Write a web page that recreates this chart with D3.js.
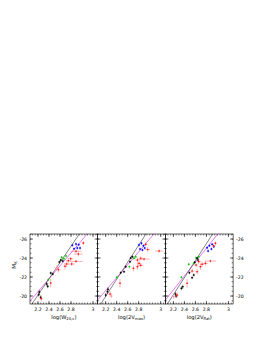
<!DOCTYPE html>
<html>
<head>
<meta charset="utf-8">
<script src="https://cdn.jsdelivr.net/npm/d3@7"></script>
<style>
  body { margin: 0; background: #fff; }
  svg { display: block; font-family: "DejaVu Sans", sans-serif; }
</style>
</head>
<body>
<div class="svg-container"></div>
<script>
// panel x-axis titles
var axisNames = ["W", "2V", "2V"];
var axisSubs = ["20,c", "max", "flat"];

var xTicks = [2.2, 2.4, 2.6, 2.8, 3.2];
var xTickLabels = ["2.2", "2.4", "2.6", "2.8", "3"];
var yTicks = [-26, -24, -22, -20];

// fit lines: M = a + b*(logW - 2.5)
var blackFit = [[-22.67, -8.57], [-22.66, -8.98], [-22.83, -8.95]];
var violetFit = [[-22.50, -6.8], [-22.61, -6.8], [-22.84, -7.32]];

// groups: k black, g green, b blue, r red, p pink
var p1Grp = ["b","b","b","b","b","b","r","r","r","g","g","g","k","k","k","r","r","r","r","r","r","p","r","k","k","g","k","k","r","k","k","k","r"];
var p1X = [2.824,2.891,2.940,2.855,2.915,2.964,3.024,2.891,2.933,2.631,2.673,2.709,2.613,2.588,2.650,2.751,2.795,2.891,2.722,2.691,2.813,2.540,2.570,2.431,2.468,2.388,2.359,2.377,2.431,2.224,2.213,2.250,2.260];
var p1M = [-25.34,-25.47,-25.40,-24.98,-25.05,-25.05,-25.58,-24.71,-24.42,-24.07,-23.93,-24.21,-23.79,-23.58,-23.68,-23.72,-23.93,-23.65,-23.37,-23.13,-23.37,-22.98,-22.77,-22.42,-22.32,-21.72,-21.26,-21.02,-21.37,-20.42,-20.14,-19.86,-19.72];
var p1Ex = [0.02,0.02,0.02,0.02,0.02,0.02,0.03,0.10,0.08,0.02,0.02,0.02,0.02,0.02,0.02,0.04,0.05,0.12,0.04,0.03,0.06,0.05,0.04,0.02,0.02,0.02,0.02,0.02,0.02,0.02,0.02,0.02,0.03];
var p1Em = [0.15,0.15,0.15,0.15,0.15,0.15,0.20,0.20,0.25,0.15,0.15,0.15,0.15,0.15,0.15,0.25,0.20,0.15,0.30,0.35,0.20,0.25,0.30,0.15,0.15,0.15,0.20,0.20,0.45,0.20,0.20,0.20,0.30];

var p2Grp = ["b","b","b","b","b","b","r","r","r","k","k","k","g","g","r","r","r","r","r","r","r","k","k","g","g","k","r","k","k","k","r","p"];
var p2X = [2.806,2.850,2.886,2.824,2.868,2.910,2.928,3.170,2.964,2.655,2.686,2.642,2.715,2.746,2.777,2.837,2.897,2.806,2.777,2.837,2.704,2.564,2.533,2.631,2.400,2.473,2.460,2.242,2.231,2.200,2.279,2.304];
var p2M = [-25.37,-25.55,-25.29,-24.95,-24.84,-25.05,-25.44,-24.74,-24.89,-24.00,-24.14,-23.61,-23.97,-24.14,-23.79,-23.97,-23.89,-23.44,-23.08,-23.23,-22.92,-23.08,-22.56,-23.08,-21.97,-22.45,-21.34,-20.71,-20.45,-20.11,-20.21,-20.00];
var p2Ex = [0.02,0.02,0.02,0.02,0.02,0.02,0.03,0.07,0.04,0.02,0.02,0.02,0.02,0.02,0.04,0.04,0.10,0.04,0.03,0.05,0.03,0.02,0.02,0.02,0.02,0.02,0.02,0.02,0.02,0.02,0.03,0.03];
var p2Em = [0.15,0.15,0.15,0.15,0.15,0.15,0.20,0.20,0.25,0.15,0.15,0.15,0.15,0.15,0.25,0.20,0.15,0.30,0.35,0.20,0.30,0.15,0.15,0.15,0.15,0.15,0.45,0.20,0.20,0.20,0.30,0.25];

var p3Grp = ["b","b","b","b","b","b","r","r","r","r","g","g","g","g","k","k","k","r","r","r","r","r","k","k","g","k","r","r","k","k","k","k","r","p"];
var p3X = [2.813,2.855,2.904,2.831,2.891,2.933,2.964,2.933,2.873,2.782,2.613,2.660,2.570,2.479,2.631,2.649,2.588,2.660,2.722,2.691,2.631,2.613,2.570,2.540,2.346,2.491,2.540,2.449,2.370,2.346,2.237,2.250,2.268,2.207];
var p3M = [-25.08,-25.29,-25.44,-24.74,-24.95,-25.19,-25.55,-25.29,-23.68,-23.44,-24.03,-24.14,-23.44,-23.34,-23.97,-23.79,-23.55,-23.62,-23.34,-23.08,-22.56,-23.26,-22.21,-21.93,-21.97,-22.45,-22.63,-21.34,-20.98,-20.81,-20.21,-20.00,-20.11,-19.93];
var p3Ex = [0.02,0.02,0.02,0.02,0.02,0.02,0.03,0.03,0.10,0.05,0.02,0.02,0.02,0.02,0.02,0.02,0.02,0.04,0.04,0.03,0.03,0.04,0.02,0.02,0.02,0.02,0.03,0.02,0.02,0.02,0.02,0.02,0.03,0.03];
var p3Em = [0.15,0.15,0.15,0.15,0.15,0.15,0.20,0.20,0.15,0.25,0.15,0.15,0.15,0.15,0.15,0.15,0.15,0.25,0.30,0.35,0.30,0.20,0.15,0.15,0.15,0.15,0.25,0.45,0.20,0.20,0.20,0.20,0.30,0.25];

var panels = [
  {grp: p1Grp, x: p1X, m: p1M, ex: p1Ex, em: p1Em},
  {grp: p2Grp, x: p2X, m: p2M, ex: p2Ex, em: p2Em},
  {grp: p3Grp, x: p3X, m: p3M, ex: p3Ex, em: p3Em}
];

var colors = {k: "#000000", g: "#00cc00", b: "#0000ff", r: "#ff0000", p: "#ff7f9f"};
var barColors = {k: "#000000", g: "#00cc00", b: "#0000ff", r: "#ff6060", p: "#ffa0b0"};

var width = 263, height = 341;
var plotLeft = 30, plotTop = 234, pw = 67.7, ph = 70;

var svg = d3.select(".svg-container").append("svg")
  .attr("width", width)
  .attr("height", height);

var y = d3.scaleLinear().domain([-19.16, -26.53]).range([plotTop + ph, plotTop]);

panels.forEach(function(p, i) {
  var x0 = plotLeft + i * pw;
  var x = d3.scaleLinear().domain([2.055, 3.285]).range([x0, x0 + pw]);
  var g = svg.append("g");

  g.append("clipPath").attr("id", "clip" + i)
    .append("rect")
    .attr("x", x0).attr("y", plotTop).attr("width", pw).attr("height", ph);

  // ticks
  var xMinor = d3.range(2.1, 3.27, 0.05);
  var yMinor = d3.range(-26.5, -19.1, 0.5);
  [plotTop + ph, plotTop].forEach(function(yy, s) {
    var dir = s === 0 ? -1 : 1;
    g.selectAll(null).data(xMinor).enter().append("line")
      .attr("x1", d => x(d)).attr("x2", d => x(d))
      .attr("y1", yy).attr("y2", yy + dir * 1.5)
      .attr("stroke", "#000").attr("stroke-width", 0.5);
    g.selectAll(null).data(xTicks).enter().append("line")
      .attr("x1", d => x(d)).attr("x2", d => x(d))
      .attr("y1", yy).attr("y2", yy + dir * 3)
      .attr("stroke", "#000").attr("stroke-width", 0.6);
  });
  [x0, x0 + pw].forEach(function(xx, s) {
    var dir = s === 0 ? 1 : -1;
    g.selectAll(null).data(yMinor).enter().append("line")
      .attr("x1", xx).attr("x2", xx + dir * 1.5)
      .attr("y1", d => y(d)).attr("y2", d => y(d))
      .attr("stroke", "#000").attr("stroke-width", 0.5);
    g.selectAll(null).data(yTicks).enter().append("line")
      .attr("x1", xx).attr("x2", xx + dir * 3)
      .attr("y1", d => y(d)).attr("y2", d => y(d))
      .attr("stroke", "#000").attr("stroke-width", 0.6);
  });

  // x tick labels
  g.selectAll(null).data(xTicks).enter().append("text")
    .attr("x", d => x(d)).attr("y", plotTop + ph + 7)
    .attr("text-anchor", "middle")
    .attr("font-size", 4.6)
    .text((d, j) => xTickLabels[j]);

  // x label
  var lab = g.append("text")
    .attr("x", x0 + pw / 2).attr("y", plotTop + ph + 15)
    .attr("text-anchor", "middle")
    .attr("font-size", 5.2);
  lab.append("tspan").text("log(" + axisNames[i]);
  lab.append("tspan").attr("font-size", 3.8).attr("dy", 1.2).text(axisSubs[i]);
  lab.append("tspan").attr("dy", -1.2).text(")");

  // fit lines
  var lineGen = function(fit) {
    return d3.line()
      .x(d => x(d))
      .y(d => y(fit[0] + fit[1] * (d - 2.5)))([1.9, 3.4]);
  };
  var clipG = g.append("g").attr("clip-path", "url(#clip" + i + ")");
  clipG.append("path").attr("d", lineGen(violetFit[i]))
    .attr("fill", "none").attr("stroke", "#e040f0").attr("stroke-width", 0.7);
  clipG.append("path").attr("d", lineGen(blackFit[i]))
    .attr("fill", "none").attr("stroke", "#333").attr("stroke-width", 0.6);

  // points with error bars
  var idx = d3.range(p.x.length);
  var pts = clipG.selectAll(null).data(idx).enter().append("g");
  pts.append("line")
    .attr("x1", j => x(p.x[j] - p.ex[j])).attr("x2", j => x(p.x[j] + p.ex[j]))
    .attr("y1", j => y(p.m[j])).attr("y2", j => y(p.m[j]))
    .attr("stroke", j => barColors[p.grp[j]]).attr("stroke-width", 0.5);
  pts.append("line")
    .attr("x1", j => x(p.x[j])).attr("x2", j => x(p.x[j]))
    .attr("y1", j => y(p.m[j] - p.em[j])).attr("y2", j => y(p.m[j] + p.em[j]))
    .attr("stroke", j => barColors[p.grp[j]]).attr("stroke-width", 0.5);
  pts.append("circle")
    .attr("cx", j => x(p.x[j])).attr("cy", j => y(p.m[j]))
    .attr("r", 0.8)
    .attr("fill", j => colors[p.grp[j]]);

  // frame
  g.append("rect")
    .attr("x", x0).attr("y", plotTop).attr("width", pw).attr("height", ph)
    .attr("fill", "none").attr("stroke", "#000").attr("stroke-width", 0.6);
});

// y tick labels, left and right
svg.selectAll(null).data(yTicks).enter().append("text")
  .attr("x", plotLeft - 3).attr("y", d => y(d) + 1.6)
  .attr("text-anchor", "end")
  .attr("font-size", 4.6)
  .text(d => d);
svg.selectAll(null).data(yTicks).enter().append("text")
  .attr("x", plotLeft + 3 * pw + 3).attr("y", d => y(d) + 1.6)
  .attr("text-anchor", "start")
  .attr("font-size", 4.6)
  .text(d => d);

// y label
var ylab = svg.append("text")
  .attr("transform", "translate(16," + (plotTop + ph / 2 - 4) + ") rotate(-90)")
  .attr("text-anchor", "middle")
  .attr("font-size", 5.6);
ylab.append("tspan").text("M");
ylab.append("tspan").attr("font-size", 4).attr("dy", 1.3).text("K");
</script>
</body>
</html>
